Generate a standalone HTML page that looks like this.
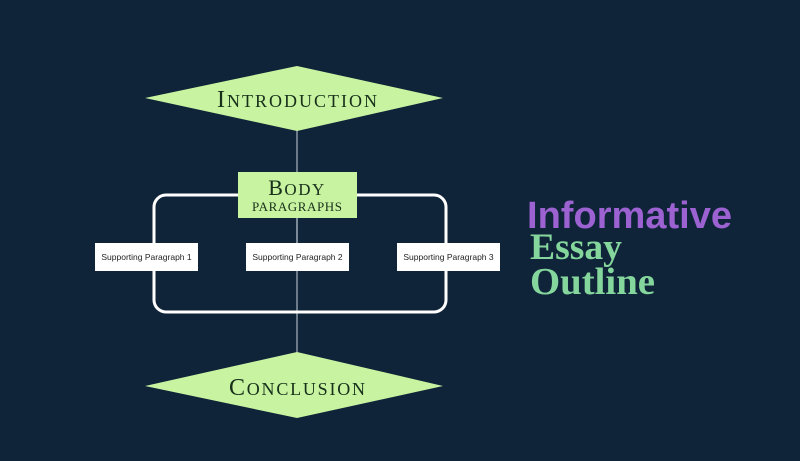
<!DOCTYPE html>
<html><head><meta charset="utf-8"><style>
html,body{margin:0;padding:0;background:#0f2439;}
svg{display:block}
</style></head><body>
<svg width="800" height="461" viewBox="0 0 800 461" xmlns="http://www.w3.org/2000/svg">
<rect width="800" height="461" fill="#0f2439"/>
<line x1="297" y1="125" x2="297" y2="360" stroke="#8a98a6" stroke-width="1.5"/>
<polygon points="145,98 297,66 443,98 297,131" fill="#c8f3a0"/>
<text x="297" y="107" text-anchor="middle" font-family="Liberation Serif, serif" font-size="24" fill="#17301a" textLength="160" lengthAdjust="spacing">I<tspan font-size="18">NTRODUCTION</tspan></text>
<rect x="154" y="195" width="292" height="117" rx="12" fill="none" stroke="#ffffff" stroke-width="3"/>
<rect x="238" y="172" width="119" height="46" fill="#c8f3a0"/>
<text x="297" y="195" text-anchor="middle" font-family="Liberation Serif, serif" font-size="22" fill="#17301a" letter-spacing="1.5">B<tspan font-size="17">ODY</tspan></text>
<text x="297" y="211" text-anchor="middle" font-family="Liberation Serif, serif" font-size="13" fill="#17301a" textLength="90" lengthAdjust="spacing">PARAGRAPHS</text>
<line x1="297" y1="218" x2="297" y2="243" stroke="#8a98a6" stroke-width="1.5"/>
<rect x="95" y="243" width="103" height="28" fill="#ffffff"/>
<rect x="246" y="243" width="103" height="28" fill="#ffffff"/>
<rect x="397" y="243" width="103" height="28" fill="#ffffff"/>
<g font-family="Liberation Sans, sans-serif" font-size="8.5" fill="#222" text-anchor="middle">
<text x="146.5" y="260">Supporting Paragraph 1</text>
<text x="297.5" y="260">Supporting Paragraph 2</text>
<text x="448.5" y="260">Supporting Paragraph 3</text>
</g>
<polygon points="145,386 297,352 443,386 297,418" fill="#c8f3a0"/>
<text x="297" y="395" text-anchor="middle" font-family="Liberation Serif, serif" font-size="24" fill="#17301a" textLength="136" lengthAdjust="spacing">C<tspan font-size="18">ONCLUSION</tspan></text>
<text x="527" y="228" font-family="Liberation Sans, sans-serif" font-weight="bold" font-size="38" fill="#9c62d2" textLength="205" lengthAdjust="spacingAndGlyphs">Informative</text>
<text x="530" y="259" font-family="Liberation Serif, serif" font-weight="bold" font-size="37" fill="#84d69c" textLength="92" lengthAdjust="spacingAndGlyphs">Essay</text>
<text x="530" y="294" font-family="Liberation Serif, serif" font-weight="bold" font-size="38" fill="#84d69c" textLength="125" lengthAdjust="spacingAndGlyphs">Outline</text>
</svg>
</body></html>
